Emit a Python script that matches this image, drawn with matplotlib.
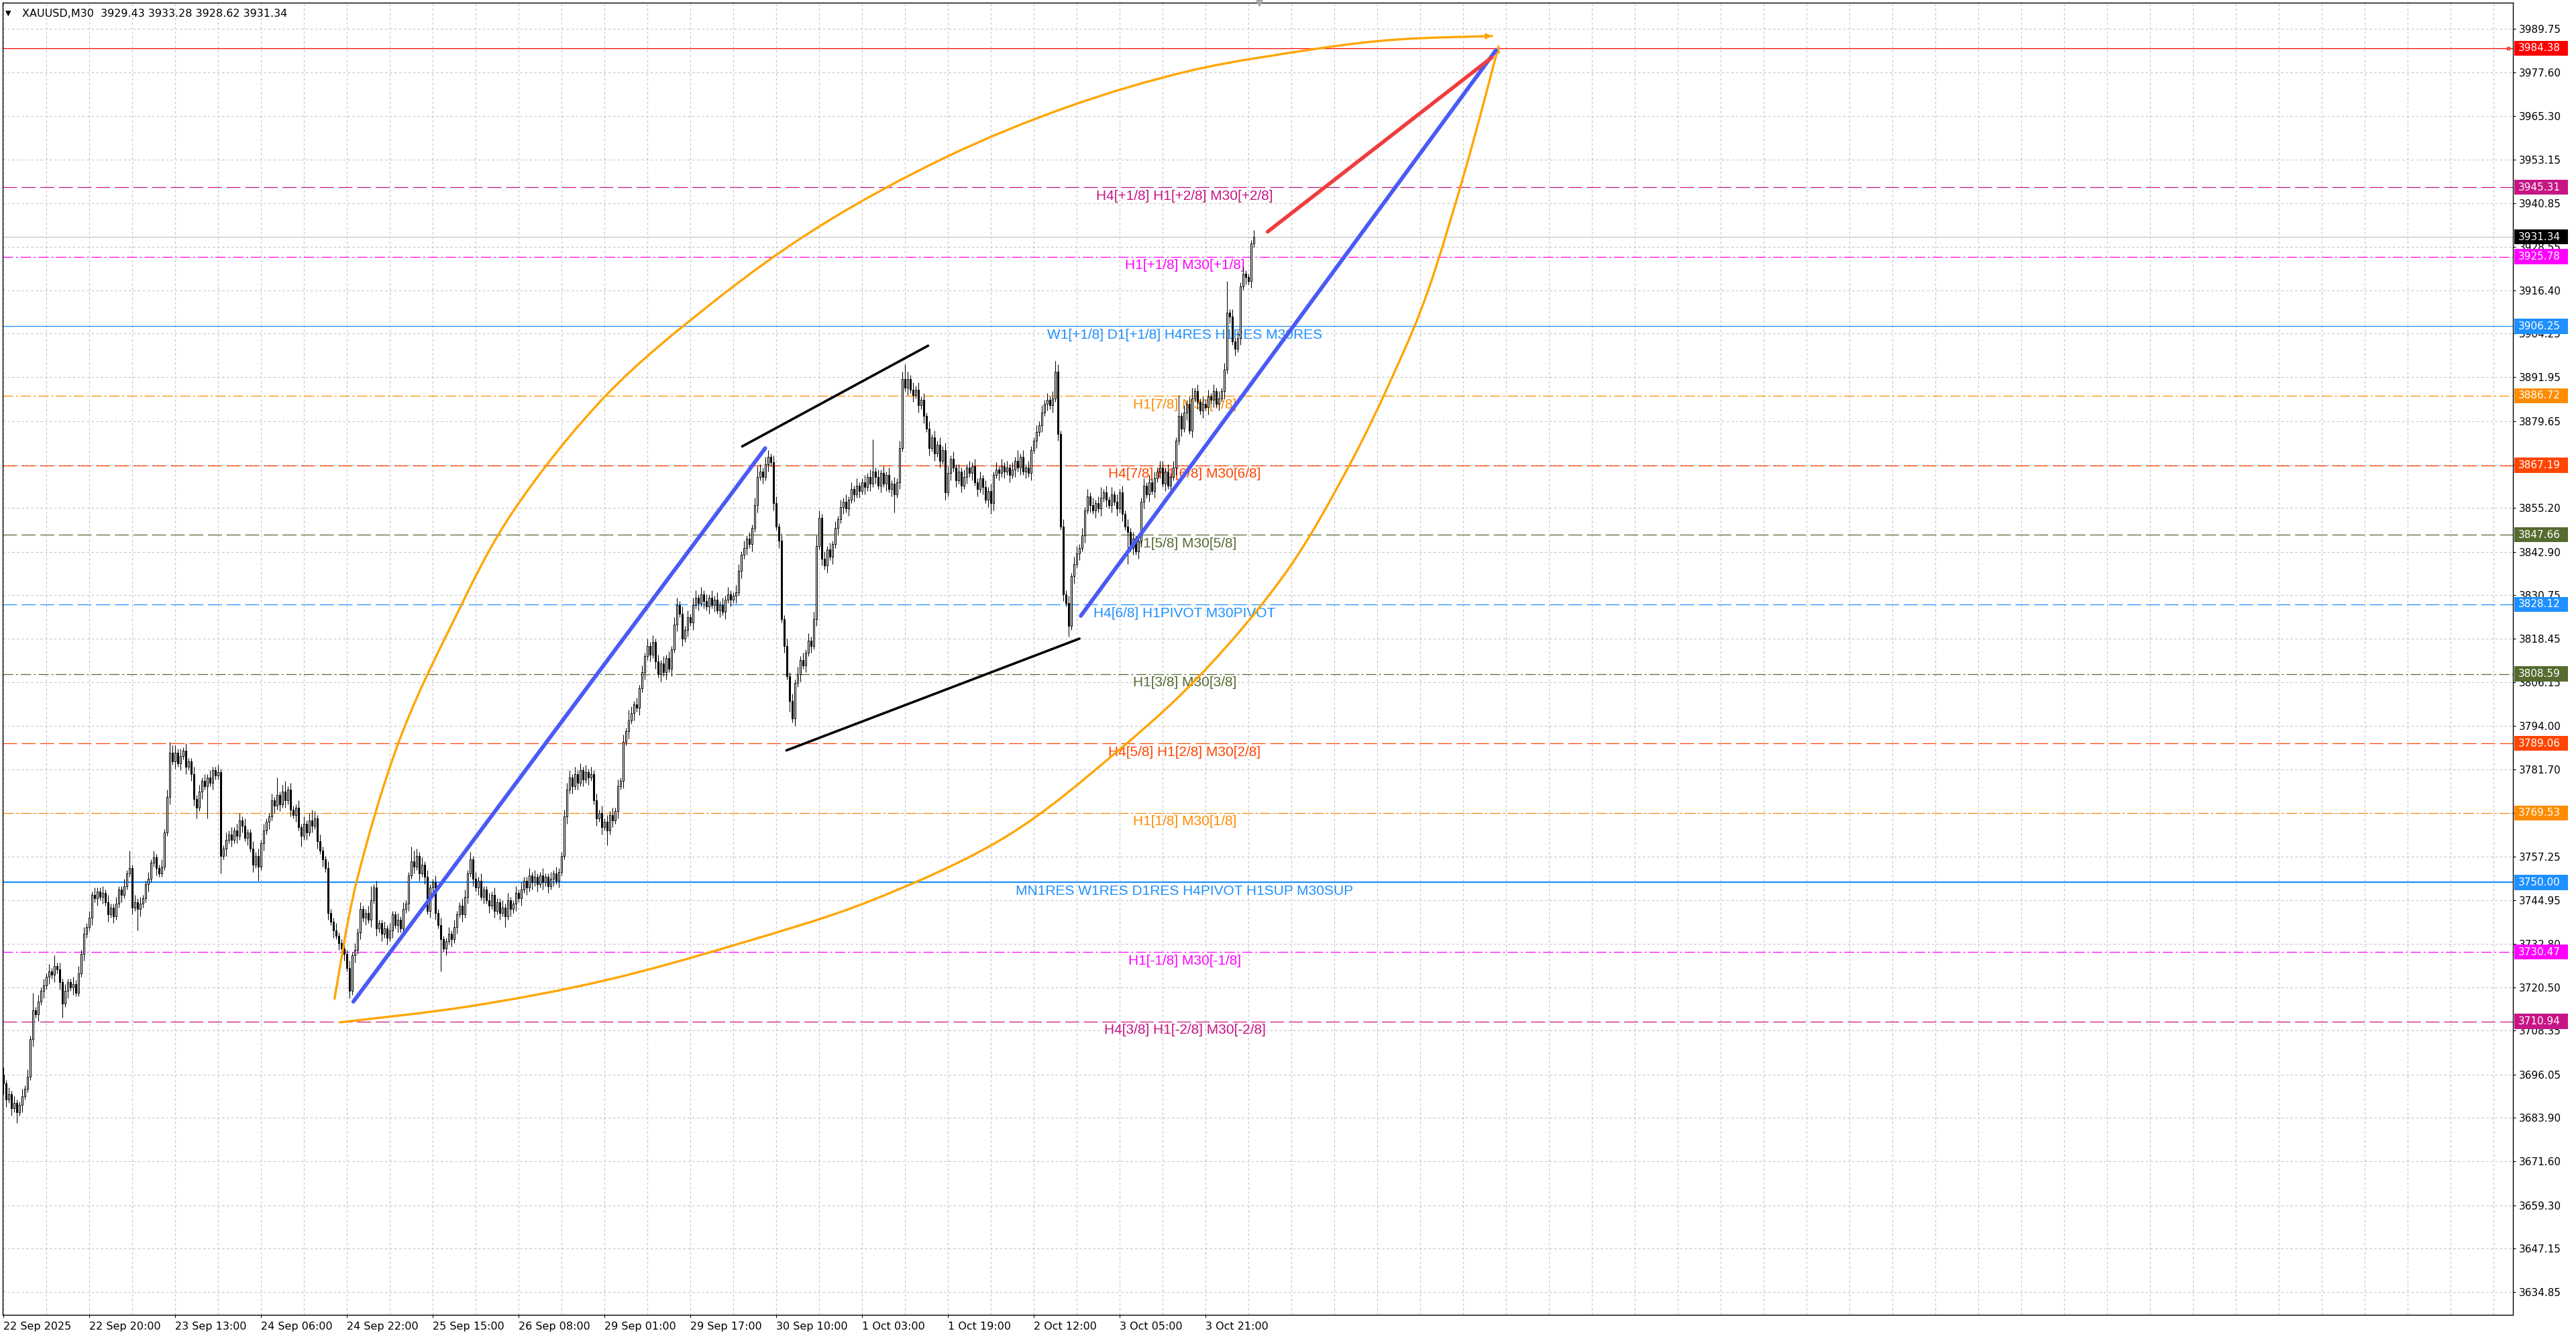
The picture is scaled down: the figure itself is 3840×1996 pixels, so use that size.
import numpy as np
import matplotlib
matplotlib.use('Agg')
import matplotlib.pyplot as plt
import matplotlib.transforms as mtransforms
from matplotlib.path import Path
from matplotlib.patches import PathPatch, Rectangle

plt.rcParams['lines.scale_dashes'] = False
plt.rcParams['font.family'] = ['DejaVu Sans']

# ---- data (M30 bars, index 0 = 22 Sep 04:00) ----
SYMBOL = 'XAUUSD,M30'
LAST_OHLC = ['3929.43', '3933.28', '3928.62', '3931.34']

first_open = 3696.0
closes = [
    3693.5, 3689.0, 3690.5, 3686.5, 3688.0, 3685.5, 3687.5, 3690.0, 3692.0, 3695.5, 3706.0, 3714.0, 3713.0, 3716.5, 3719.5, 3721.0,
    3723.5, 3725.0, 3724.0, 3726.5, 3725.5, 3722.0, 3716.0, 3719.5, 3722.0, 3720.5, 3721.5, 3719.0, 3724.5, 3730.0, 3735.5, 3737.5,
    3740.0, 3746.5, 3745.5, 3747.5, 3746.0, 3747.0, 3744.5, 3741.0, 3743.0, 3740.5, 3744.0, 3748.0, 3746.5, 3749.0, 3752.5, 3754.0,
    3743.0, 3744.5, 3742.5, 3744.0, 3745.5, 3749.5, 3751.0, 3755.5, 3757.0, 3754.0, 3752.5, 3754.5, 3764.0, 3774.0, 3786.5, 3784.0,
    3786.5, 3783.5, 3785.5, 3787.0, 3782.5, 3784.0, 3780.5, 3773.5, 3771.0, 3775.5, 3778.5, 3777.0, 3779.5, 3778.0, 3781.5, 3780.0,
    3781.0, 3757.5, 3759.5, 3762.0, 3763.5, 3762.0, 3764.5, 3763.0, 3767.5, 3766.0, 3762.5, 3764.0, 3759.5, 3755.0, 3757.5, 3754.5,
    3761.0, 3764.5, 3767.0, 3768.5, 3773.0, 3771.5, 3774.5, 3772.0, 3775.5, 3773.0, 3776.0, 3770.5, 3769.0, 3771.0, 3765.5, 3763.0,
    3766.5, 3764.0, 3767.5, 3766.0, 3768.0, 3761.5, 3759.0, 3756.5, 3754.0, 3741.5, 3739.0, 3736.5, 3735.0, 3733.0, 3731.5, 3730.0,
    3726.0, 3719.5, 3729.5, 3731.0, 3736.0, 3742.5, 3740.0, 3741.5, 3739.5, 3745.0, 3748.5, 3737.0, 3738.5, 3735.5, 3737.0, 3734.5,
    3736.5, 3741.0, 3738.0, 3739.5, 3737.0, 3742.5, 3744.0, 3752.0, 3756.0, 3754.5, 3757.5, 3752.5, 3755.0, 3751.5, 3742.0, 3748.5,
    3750.0, 3741.5, 3738.0, 3734.0, 3731.5, 3733.5, 3735.5, 3734.0, 3737.5, 3741.0, 3743.5, 3741.0, 3746.0, 3752.5, 3756.5, 3751.0,
    3748.5, 3750.5, 3746.0, 3748.0, 3745.0, 3743.5, 3746.5, 3742.0, 3744.5, 3741.5, 3743.0, 3740.5, 3745.0, 3742.5, 3744.0, 3747.0,
    3745.5, 3748.0, 3750.5, 3748.5, 3752.0, 3750.0, 3751.5, 3749.5, 3752.0, 3750.0, 3751.5, 3749.0, 3751.0, 3752.5, 3750.5, 3753.0,
    3757.5, 3768.5, 3776.0, 3779.5, 3777.0, 3780.5, 3778.0, 3781.5, 3779.0, 3781.0, 3779.5, 3780.5, 3773.0, 3768.0, 3769.5, 3765.5,
    3767.0, 3764.5, 3769.0, 3767.5, 3770.0, 3777.0, 3778.5, 3789.5, 3792.5, 3795.5, 3797.5, 3800.0, 3799.0, 3804.5, 3809.0, 3813.5,
    3816.5, 3814.0, 3817.5, 3812.0, 3808.5, 3811.5, 3809.0, 3813.0, 3810.0, 3815.5, 3822.5, 3828.0, 3825.5, 3818.5, 3821.0, 3824.5,
    3823.0, 3828.0, 3830.0, 3828.5, 3831.0, 3829.0, 3827.5, 3830.0, 3828.0, 3829.5, 3826.5, 3828.0, 3826.0, 3829.5, 3831.0, 3829.5,
    3830.5, 3831.5, 3837.5, 3842.0, 3844.0, 3846.5, 3845.0, 3849.5, 3856.0, 3864.0, 3865.5, 3864.0, 3867.5, 3869.5, 3868.0, 3856.5,
    3850.0, 3846.0, 3824.0, 3816.5, 3808.0, 3801.0, 3796.0, 3806.0, 3808.5, 3812.5, 3811.0, 3814.5, 3818.0, 3816.5, 3824.0, 3844.5,
    3852.5, 3841.0, 3839.0, 3843.5, 3841.5, 3845.0, 3849.5, 3852.0, 3855.5, 3857.0, 3855.0, 3857.5, 3860.5, 3859.0, 3861.5, 3860.0,
    3862.5, 3861.0, 3864.0, 3862.0, 3865.5, 3864.0, 3861.5, 3865.0, 3862.0, 3864.5, 3860.5, 3862.0, 3859.0, 3862.5, 3872.0, 3891.5,
    3889.0, 3891.5, 3888.5, 3887.0, 3888.5, 3884.0, 3885.5, 3881.0, 3877.5, 3872.0, 3875.0, 3870.5, 3873.0, 3868.5, 3871.5, 3859.5,
    3865.0, 3869.0, 3866.5, 3863.0, 3865.5, 3861.5, 3864.0, 3866.5, 3865.0, 3867.0, 3862.5, 3860.5, 3863.5, 3861.0, 3857.5, 3860.0,
    3856.5, 3864.5, 3866.0, 3865.0, 3867.0, 3865.5, 3866.5, 3864.5, 3866.0, 3868.5, 3866.5, 3869.5, 3865.5, 3866.5, 3865.0, 3871.5,
    3874.0, 3876.5, 3878.5, 3882.0, 3884.5, 3885.5, 3884.0, 3886.0, 3893.5, 3876.0, 3850.0, 3831.0, 3828.5, 3822.0, 3836.0, 3839.5,
    3842.5, 3844.0, 3847.5, 3854.5, 3858.5, 3856.0, 3854.5, 3856.5, 3855.0, 3858.0, 3859.5, 3857.5, 3856.0, 3859.0, 3857.0, 3855.0,
    3859.5, 3853.5, 3850.0, 3848.5, 3844.0, 3846.5, 3843.0, 3846.0, 3857.0, 3861.5, 3859.0, 3862.5, 3860.0, 3863.5, 3865.5, 3866.5,
    3862.0, 3865.5, 3861.5, 3864.0, 3866.5, 3874.0, 3881.0, 3877.5, 3882.0, 3884.5, 3877.0, 3886.0, 3888.0, 3885.0, 3882.5, 3884.5,
    3883.5, 3886.5, 3885.5, 3888.0, 3884.5, 3886.0, 3888.0, 3894.0, 3910.0, 3909.0, 3902.0, 3900.0, 3903.0, 3917.5, 3921.0, 3920.0,
    3919.0, 3929.43, 3931.34,
]
# wick lengths above / below the body, one digit per bar (price units)
upper_wick = ('2121211212151212' '1213121211212121' '2121121211211215' '1212112121121232'
              '2121211212121211' '2112121221211212' '1211215123121121' '2123212112112112'
              '1212121124121121' '2112121143212121' '1212112121122121' '2121121211212112'
              '1211212112112121' '1222121212121212' '1212121213212121' '2121212121221212'
              '1221212121212121' '1221212123212212' '2121212121212123' '2121212121212121'
              '1212912121212122' '4212121212121212' '2121212121212121' '2121212121312121'
              '1212121232121212' '2121212123121212' '1212121212121212' '2121216121231212'
              '1212121291212121' '112')
lower_wick = ('3212131211121212' '1212124121211121' '1212121212112111' '2162112112111121'
              '2121212231219121' '1512121212121214' '1212121212121213' '1212121212121212'
              '1212121212121212' '1212121212121212' '1219121212121212' '1212121212131212'
              '1212121212121212' '1121212121211212' '1412121212121212' '1212121212121212'
              '1212121212121212' '1212121212121212' '1212131212121212' '1212121212121212'
              '1212121212125121' '1212121212121212' '1212121212121212' '3212121212121212'
              '1212121212121312' '1212121212121212' '1219121212121212' '1212121212121212'
              '1212121212121212' '121')

date_labels = ['22 Sep 2025', '22 Sep 20:00', '23 Sep 13:00', '24 Sep 06:00', '24 Sep 22:00',
               '25 Sep 15:00', '26 Sep 08:00', '29 Sep 01:00', '29 Sep 17:00', '30 Sep 10:00',
               '1 Oct 03:00', '1 Oct 19:00', '2 Oct 12:00', '3 Oct 05:00', '3 Oct 21:00']
BARS_PER_LABEL = 32

price_ticks = [3989.75, 3977.60, 3965.30, 3953.15, 3940.85, 3928.55, 3916.40, 3904.25, 3891.95,
               3879.65, 3867.40, 3855.20, 3842.90, 3830.75, 3818.45, 3806.15, 3794.00, 3781.70,
               3769.40, 3757.25, 3744.95, 3732.80, 3720.50, 3708.35, 3696.05, 3683.90, 3671.60,
               3659.30, 3647.15, 3634.85]

level_prices = [3945.31, 3925.78, 3906.25, 3886.72, 3867.19, 3847.66, 3828.12, 3808.59,
                3789.06, 3769.53, 3750.00, 3730.47, 3710.94]
level_texts = ['H4[+1/8] H1[+2/8] M30[+2/8]', 'H1[+1/8] M30[+1/8]',
               'W1[+1/8] D1[+1/8] H4RES H1RES M30RES', 'H1[7/8] M30[7/8]',
               'H4[7/8] H1[6/8] M30[6/8]', 'H1[5/8] M30[5/8]', 'H4[6/8] H1PIVOT M30PIVOT',
               'H1[3/8] M30[3/8]', 'H4[5/8] H1[2/8] M30[2/8]', 'H1[1/8] M30[1/8]',
               'MN1RES W1RES D1RES H4PIVOT H1SUP M30SUP', 'H1[-1/8] M30[-1/8]',
               'H4[3/8] H1[-2/8] M30[-2/8]']
level_colors = ['#C71585', '#FF00FF', '#1E90FF', '#FF8C00', '#FF4500', '#556B2F', '#1E90FF',
                '#556B2F', '#FF4500', '#FF8C00', '#1E90FF', '#FF00FF', '#C71585']
level_kinds = ['dash', 'dashdot', 'solid', 'dashdot', 'dash', 'dash', 'dash', 'dashdot',
               'dash', 'dashdot', 'thick', 'dashdot', 'dash']
target_price = 3984.38

# drawn objects: (bar index, price)
blue_lines = [[(130.5, 3716.5), (284.0, 3872.0)], [(401.6, 3824.9), (556.3, 3983.8)]]
black_lines = [[(275.4, 3872.5), (344.7, 3900.8)], [(291.9, 3787.1), (401.1, 3818.5)]]
red_line = [(471.2, 3932.8), (554.8, 3981.8)]
arc_upper = [(123.5, 3717.3), (131.7, 3750.2), (147.3, 3789.2), (167.2, 3822.5), (190.0, 3854.2),
             (224.5, 3886.7), (264.7, 3913.1), (305.0, 3934.7), (350.9, 3953.6), (396.8, 3967.9),
             (442.7, 3978.1), (488.6, 3984.1), (519.3, 3986.8), (554.8, 3987.8)]
arc_lower = [(125.6, 3710.7), (173.8, 3715.2), (223.8, 3722.4), (273.8, 3732.7), (323.8, 3745.0),
             (373.8, 3762.9), (415.8, 3787.2), (448.3, 3810.0), (478.6, 3837.7), (501.6, 3867.1),
             (518.8, 3893.9), (531.3, 3916.9), (545.1, 3950.8), (557.3, 3984.9)]
LABEL_BAR = 440.3


def smooth_path(pts):
  pts = np.asarray(pts, float)
  verts, codes = [pts[0]], [Path.MOVETO]
  n = len(pts)
  for k in range(n - 1):
    p0 = pts[k - 1] if k > 0 else pts[k]
    p1, p2 = pts[k], pts[k + 1]
    p3 = pts[k + 2] if k + 2 < n else pts[k + 1]
    verts += [p1 + (p2 - p0) / 6, p2 - (p3 - p1) / 6, p2]
    codes += [Path.CURVE4] * 3
  return Path(verts, codes)


W, H = 3840, 1996
fig = plt.figure(figsize=(W / 100, H / 100), dpi=100)
ax = fig.add_axes([3.5 / W, 36 / H, (3746 - 3.5) / W, 1956 / H])
ax.set_xlim(-0.3, 935.3)
ax.set_ylim(3628.52, 3997.16)

# grid
grid_kw = dict(color='#C4C4C4', lw=0.8, ls=(0, (2.5, 2.5)), zorder=0)
for p in price_ticks:
  ax.axhline(p, **grid_kw)
for x in range(0, 936, BARS_PER_LABEL // 2):
  ax.axvline(x, **grid_kw)

# levels
styles = {'dash': dict(ls=(0, (15, 5)), lw=0.9), 'dashdot': dict(ls=(0, (11, 3, 2, 3)), lw=0.9),
          'solid': dict(ls='-', lw=0.9), 'thick': dict(ls='-', lw=1.6)}
for p, t, col, kind in zip(level_prices, level_texts, level_colors, level_kinds):
  ax.axhline(p, color=col, zorder=1, **styles[kind])
  ax.annotate(t, (LABEL_BAR, p), xytext=(0, -9.5), textcoords='offset points',
              ha='center', va='center', color=col, fontsize=15,
              family=['Liberation Sans', 'DejaVu Sans'], zorder=2)
ax.axhline(target_price, color='#FF0000', lw=0.9, zorder=1)
ax.plot([933.5], [target_price], marker='s', ms=3, mfc='none', mec='#FF0000', mew=0.8, zorder=3)
ax.axhline(closes[-1], color='#C0C0C0', lw=0.8, zorder=1)

# candles
c = np.array(closes)
o = np.array([first_open] + closes[:-1])
up = np.array([int(d) for d in upper_wick], float)
dn = np.array([int(d) for d in lower_wick], float)
idx = np.arange(len(c))
hi = np.maximum(o, c) + up
lo = np.minimum(o, c) - dn
ax.vlines(idx, lo, hi, color='black', lw=0.75, zorder=4)
bull = c >= o
ax.bar(idx[bull], (c - o)[bull], bottom=o[bull], width=0.6, facecolor='white',
       edgecolor='black', linewidth=0.75, zorder=5)
ax.bar(idx[~bull], (o - c)[~bull], bottom=c[~bull], width=0.6, facecolor='black',
       edgecolor='black', linewidth=0.75, zorder=5)

# drawn objects
for (a, b) in blue_lines:
  ax.plot([a[0], b[0]], [a[1], b[1]], color='#4A5AF4', lw=4.2, solid_capstyle='round', zorder=7)
for (a, b) in black_lines:
  ax.plot([a[0], b[0]], [a[1], b[1]], color='black', lw=2.6, solid_capstyle='round', zorder=7)
ax.plot([red_line[0][0], red_line[1][0]], [red_line[0][1], red_line[1][1]], color='#F03C3C',
        lw=4.0, solid_capstyle='round', zorder=7)
for arc in (arc_upper, arc_lower):
  ax.add_patch(PathPatch(smooth_path(arc), fill=False, edgecolor='#FFA500', lw=2.4,
                         capstyle='round', zorder=6))
  # small arrow head at the end of each arc
  ax.annotate('', xy=arc[-1], xytext=(0.7 * arc[-1][0] + 0.3 * arc[-2][0],
                                      0.7 * arc[-1][1] + 0.3 * arc[-2][1]),
              arrowprops=dict(arrowstyle='-|>', mutation_scale=13, color='#FFA500',
                              lw=1.5, shrinkA=0, shrinkB=0), zorder=6)

# axes look
for s in ax.spines.values():
  s.set_color('black')
  s.set_linewidth(1.0)
ax.yaxis.tick_right()
ax.set_yticks(price_ticks)
ax.set_yticklabels([f'{p:.2f}' for p in price_ticks])
ax.tick_params(axis='y', direction='out', length=3, pad=3, labelsize=11, colors='black')
ax.set_xticks([k * BARS_PER_LABEL for k in range(len(date_labels))])
ax.set_xticklabels(date_labels, ha='left')
ax.tick_params(axis='x', direction='out', length=3, pad=4, labelsize=11.5, colors='black')

# price boxes on the right scale
box_prices = [target_price] + level_prices + [closes[-1]]
box_colors = ['#FF0000'] + level_colors + ['#000000']
trans = mtransforms.blended_transform_factory(ax.transAxes, ax.transData)
bw = 80 / (3746 - 3.5)
bh = 22.5 / 5.306
for p, col in zip(box_prices, box_colors):
  ax.add_patch(Rectangle((1.0006, p - bh / 2), bw, bh, transform=trans, facecolor=col,
                         edgecolor='none', clip_on=False, zorder=10))
  ax.text(1.0021, p, f'{p:.2f}', transform=trans, ha='left', va='center', color='white',
          fontsize=11, zorder=11, clip_on=False)

# header
ax.text(0.0012, 0.9918, '\u25BC', transform=ax.transAxes, ha='left', va='center', fontsize=8)
ax.text(0.0079, 0.9918, SYMBOL + '  ' + ' '.join(LAST_OHLC), transform=ax.transAxes,
        ha='left', va='center', fontsize=11.5)
ax.plot([len(c) + 1], [3997.16], marker='v', ms=7, color='#A8A8A8', clip_on=False, zorder=9)

fig.savefig('out.png', dpi=100, facecolor='white')
